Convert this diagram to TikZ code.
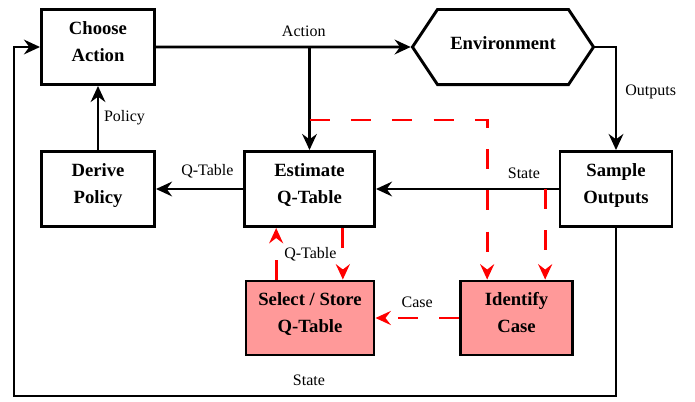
\documentclass[tikz,border=0pt]{standalone}
\usepackage{fontspec}
\setmainfont{Liberation Serif}
\usetikzlibrary{arrows.meta,shapes.symbols}

\definecolor{casepink}{RGB}{255,153,153}
\definecolor{qred}{RGB}{255,0,0}

\tikzset{every picture/.style={line width=0.75pt}}
\tikzset{
  blk/.style={draw, line width=2.2pt, rectangle, align=center, inner sep=0pt,
    font=\fontsize{14}{20.25}\selectfont\bfseries,
    minimum width=84.8pt, minimum height=56.3pt, text height=32pt, text depth=11pt},
  hlblk/.style={blk, fill=casepink, minimum height=55.5pt},
  envblk/.style={draw, line width=2.2pt, signal, signal to=west and east,
    signal pointer angle=112.6, inner sep=0pt,
    minimum width=135.8pt, minimum height=56.3pt,
    font=\fontsize{14}{17}\selectfont\bfseries, text depth=6pt},
  flow/.style={line width=2pt, -{Stealth[length=12pt,width=11pt,inset=4pt]}},
  qflow/.style={draw=qred, line width=2.2pt, dash pattern={on 15pt off 16pt},
    -{Stealth[length=11.5pt,width=10.5pt,inset=4pt,fill=qred]}},
  lbl/.style={font=\fontsize{12}{14}\selectfont, inner sep=2pt}
}

\begin{document}
\begin{tikzpicture}[x=0.75pt,y=0.75pt,yscale=-1,xscale=1]
\path[use as bounding box] (0,0) rectangle (695,401);

% Blocks
\node[blk] (choose) at (98,47) {Choose\\Action};
\node[blk] (derive) at (98,189) {Derive\\Policy};
\node[blk, minimum width=97.5pt] (estimate) at (309.5,189) {Estimate\\Q-Table};
\node[blk, minimum width=84pt] (sample) at (616,189) {Sample\\Outputs};
\node[envblk] (env) at (503,47) {Environment};
\node[hlblk, minimum width=96pt] (select) at (310,318) {Select / Store\\Q-Table};
\node[hlblk, minimum width=84pt] (identify) at (516.5,318) {Identify\\Case};

% Tap points
\coordinate (split) at (estimate.north |- choose.east);
\coordinate (tap) at (estimate.north |- 0,120);
\coordinate (stap) at ([xshift=21.5pt]identify.north |- sample.west);
\coordinate (loopbl) at (14,396);

% Main loop
\draw[flow] (choose) -- node[lbl, above=5pt, pos=0.58] {Action} (env);
\draw[flow] (split) -- (estimate);
\draw[flow] (env.east) -| node[lbl, right=4pt, pos=0.72] {Outputs} (sample);
\draw[flow] (sample) -- node[lbl, above=5pt, pos=0.19] {State} (estimate);
\draw[flow] (estimate) -- node[lbl, above=5pt, pos=0.41] {Q-Table} (derive);
\draw[flow] (derive) -- node[lbl, right=1.5pt] {Policy} (choose);
\draw[flow] (sample.south) |- node[lbl, above=5pt, pos=0.755] {State} (loopbl) |- (choose.west);

% Case handling
\draw[qflow] (tap) -| ([xshift=-22pt]identify.north);
\draw[qflow] (stap) -- (stap |- identify.north);
\draw[qflow] ([xshift=25pt]estimate.south) -- ([xshift=25pt]estimate.south |- select.north);
\draw[qflow] ([xshift=-25pt]estimate.south |- select.north) -- node[lbl, right=3pt] {Q-Table} ([xshift=-25pt]estimate.south);
\draw[qflow] (identify) -- node[lbl, above=5pt] {Case} (select);

\end{tikzpicture}
\end{document}
